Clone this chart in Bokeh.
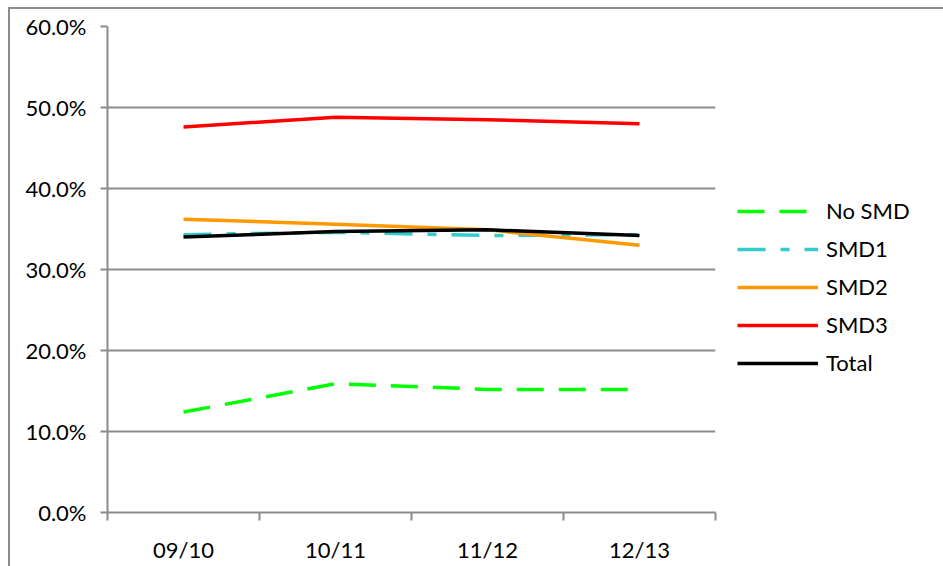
from bokeh.plotting import figure
from bokeh.models import (ColumnDataSource, FixedTicker, NumeralTickFormatter,
                          Legend, LegendItem)
from bokeh.embed import file_html
from bokeh.resources import INLINE

# School years and share of pupils per group
years = ["09/10", "10/11", "11/12", "12/13"]
no_smd = [0.124, 0.159, 0.152, 0.152]
smd1 = [0.343, 0.346, 0.342, 0.343]
smd2 = [0.362, 0.356, 0.349, 0.330]
smd3 = [0.476, 0.488, 0.485, 0.480]
total = [0.340, 0.347, 0.349, 0.342]

x = list(range(1, len(years) + 1))
src = ColumnDataSource(dict(x=x, no_smd=no_smd, smd1=smd1, smd2=smd2,
                            smd3=smd3, total=total))

FONT = "Lato"
GRID = "#8c8c8c"

p = figure(width=933, height=557, frame_width=608, frame_height=486,
           x_range=(0.5, 4.5), y_range=(0, 0.6),
           output_backend="svg", toolbar_location=None,
           min_border_left=97, min_border_top=17,
           min_border_right=0, min_border_bottom=54)
p.margin = (7, 0, 0, 8)
p.styles = {"border-left": "2px solid #8c8c8c", "border-top": "2px solid #8c8c8c"}
p.outline_line_color = None
p.background_fill_color = None
p.border_fill_color = None

# axes
p.yaxis.ticker = FixedTicker(ticks=[0, 0.1, 0.2, 0.3, 0.4, 0.5, 0.6])
p.yaxis.formatter = NumeralTickFormatter(format="0.0%")
p.yaxis.axis_line_color = GRID
p.yaxis.axis_line_width = 2
p.yaxis.major_tick_line_color = GRID
p.yaxis.major_tick_line_width = 2
p.yaxis.major_tick_out = 7
p.yaxis.major_tick_in = 0
p.yaxis.minor_tick_line_color = None
p.yaxis.major_label_standoff = 14
p.yaxis.major_label_text_font = FONT
p.yaxis.major_label_text_font_size = "22px"
p.yaxis.major_label_text_color = "black"

p.xaxis.ticker = FixedTicker(ticks=x, minor_ticks=[0.5, 1.5, 2.5, 3.5, 4.5])
p.xaxis.major_label_overrides = {i: lab for i, lab in zip(x, years)}
p.xaxis.axis_line_color = GRID
p.xaxis.axis_line_width = 2
p.xaxis.major_tick_line_color = None
p.xaxis.major_tick_out = 0
p.xaxis.minor_tick_line_color = GRID
p.xaxis.minor_tick_line_width = 2
p.xaxis.minor_tick_out = 8
p.xaxis.minor_tick_in = 0
p.xaxis.major_label_standoff = 15
p.xaxis.major_label_text_font = FONT
p.xaxis.major_label_text_font_size = "22px"
p.xaxis.major_label_text_color = "black"

p.xgrid.grid_line_color = None
p.ygrid.grid_line_color = GRID
p.ygrid.grid_line_width = 2

# series
r_no = p.line("x", "no_smd", source=src, color="#00ff00", line_width=3.5,
              line_dash="27 15")
r_1 = p.line("x", "smd1", source=src, color="#33cccc", line_width=3.5,
             line_dash="28 15 9 15")
r_2 = p.line("x", "smd2", source=src, color="#ff9900", line_width=3.5)
r_3 = p.line("x", "smd3", source=src, color="#ff0000", line_width=3.5)
r_t = p.line("x", "total", source=src, color="black", line_width=3.5)

legend = Legend(items=[LegendItem(label="No SMD", renderers=[r_no]),
                       LegendItem(label="SMD1", renderers=[r_1]),
                       LegendItem(label="SMD2", renderers=[r_2]),
                       LegendItem(label="SMD3", renderers=[r_3]),
                       LegendItem(label="Total", renderers=[r_t])],
                location=(22, 136), padding=0, margin=0, spacing=11,
                glyph_width=81, glyph_height=22, label_height=22,
                label_standoff=8, label_text_font=FONT,
                label_text_font_size="22px", label_text_color="black",
                border_line_color=None, background_fill_alpha=0)
p.add_layout(legend, "right")

open("out.html", "w").write(file_html(p, INLINE))
